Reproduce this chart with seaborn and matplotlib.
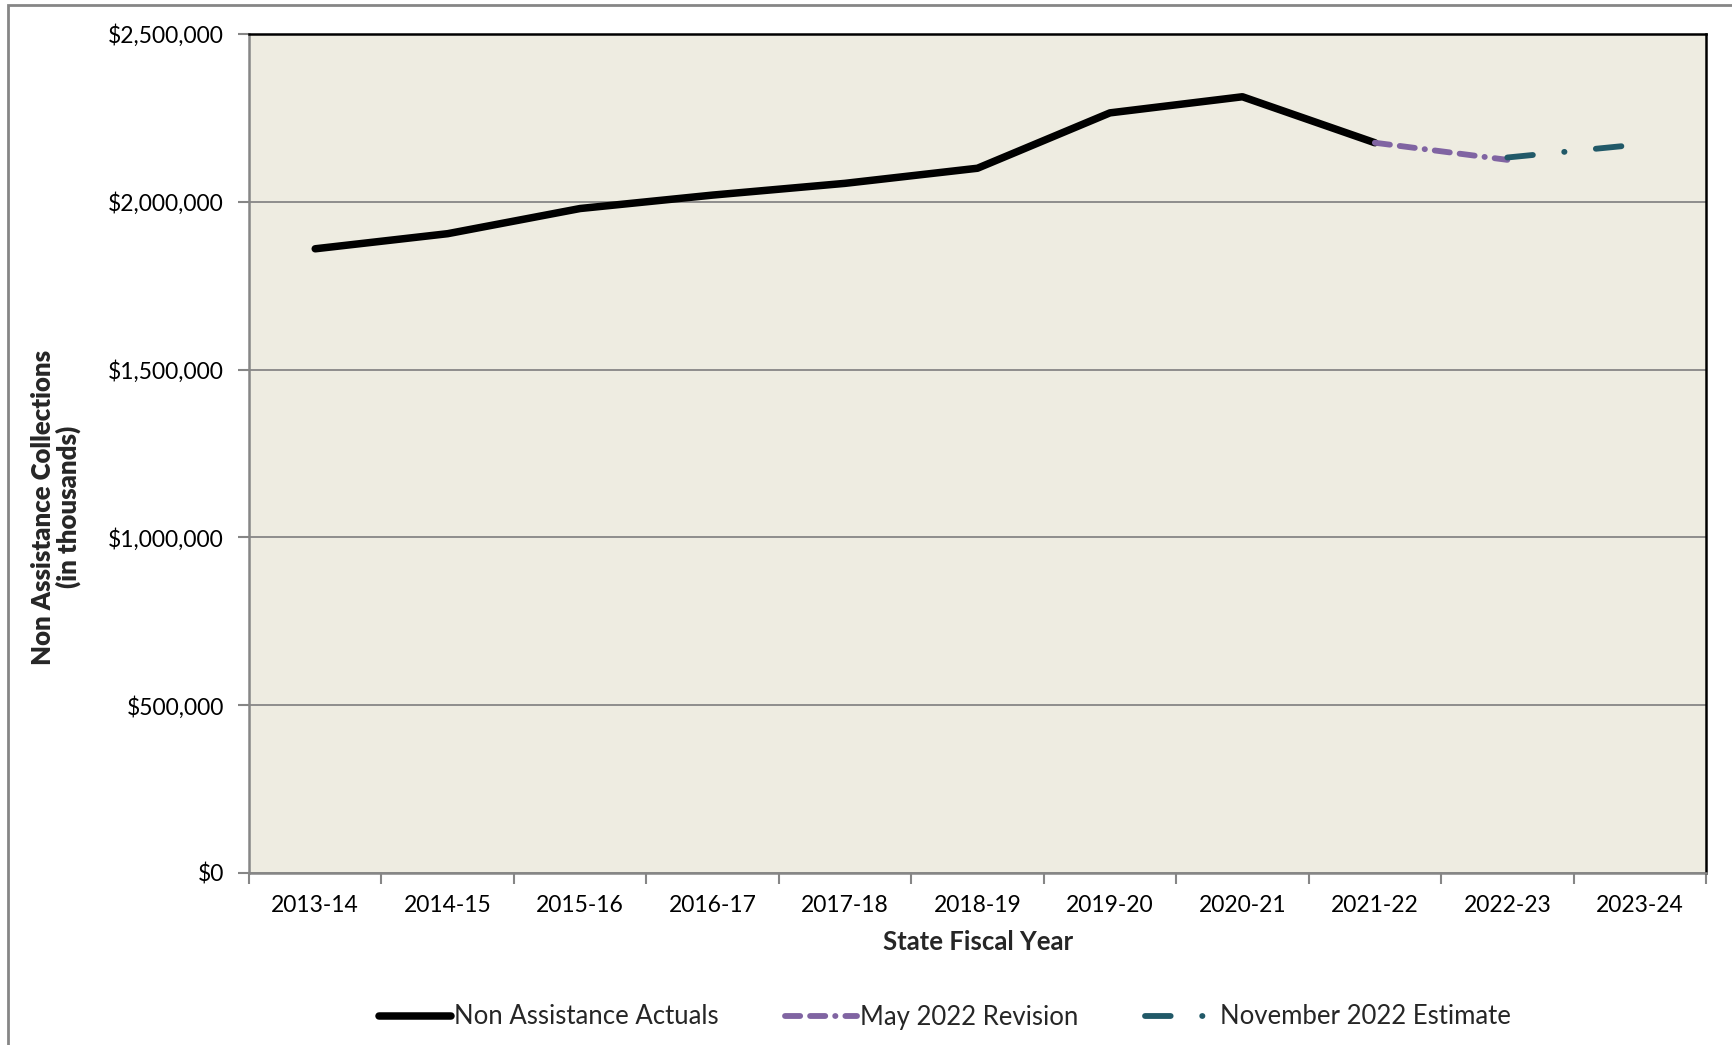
import matplotlib
matplotlib.use("Agg")
import matplotlib.pyplot as plt
from matplotlib.ticker import FuncFormatter, FixedLocator
from matplotlib.patches import Rectangle
import seaborn as sns
import pandas as pd

# ---- data ----
categories = ["2013-14", "2014-15", "2015-16", "2016-17", "2017-18", "2018-19",
              "2019-20", "2020-21", "2021-22", "2022-23", "2023-24"]
actual_years = ["2013-14", "2014-15", "2015-16", "2016-17", "2017-18", "2018-19",
                "2019-20", "2020-21", "2021-22"]
actual_values = [1860000, 1905000, 1980000, 2020000, 2055000, 2100000,
                 2265000, 2313000, 2176000]
may_years = ["2021-22", "2022-23"]
may_values = [2176000, 2125000]
nov_years = ["2022-23", "2023-24"]
nov_values = [2132000, 2171000]
y_ticks = [0, 500000, 1000000, 1500000, 2000000, 2500000]

series_names = ["Non Assistance Actuals", "May 2022 Revision", "November 2022 Estimate"]
y_title = "Non Assistance Collections\n(in thousands)"
x_title = "State Fiscal Year"

pos = {c: i for i, c in enumerate(categories)}
df_act = pd.DataFrame({"x": [pos[c] for c in actual_years], "y": actual_values})
df_may = pd.DataFrame({"x": [pos[c] for c in may_years], "y": may_values})
df_nov = pd.DataFrame({"x": [pos[c] for c in nov_years], "y": nov_values})

sns.set_theme(style="white")
plt.rcParams["font.family"] = ["Lato", "DejaVu Sans"]

W, H = 1732, 1045
fig = plt.figure(figsize=(W / 100, H / 100), dpi=100)
ax = fig.add_axes([249 / W, 1 - 873 / H, (1706 - 249) / W, (873 - 34) / H])
ax.set_facecolor("#EEECE1")

gray = "#868686"
lw = 4.2
sns.lineplot(data=df_act, x="x", y="y", ax=ax, color="black", linewidth=5.4,
             solid_capstyle="round", solid_joinstyle="round",
             label=series_names[0])
sns.lineplot(data=df_may, x="x", y="y", ax=ax, color="#8064A2", linewidth=lw,
             linestyle=(0, (2.6, 1.7, 2.6, 1.7, 0.05, 1.7)),
             dash_capstyle="round", label=series_names[1])
sns.lineplot(data=df_nov, x="x", y="y", ax=ax, color="#215968", linewidth=lw,
             linestyle=(0, (4.4, 5.4, 0.05, 5.4)),
             dash_capstyle="round", label=series_names[2])

# axes limits / ticks
ax.set_xlim(-0.5, len(categories) - 0.5)
ax.set_ylim(y_ticks[0], y_ticks[-1])
ax.yaxis.set_major_locator(FixedLocator(y_ticks))
ax.yaxis.set_major_formatter(FuncFormatter(lambda v, p: f"${v:,.0f}"))
ax.xaxis.set_major_locator(FixedLocator(list(range(len(categories)))))
ax.set_xticklabels(categories)
ax.xaxis.set_minor_locator(FixedLocator([i - 0.5 for i in range(len(categories) + 1)]))

fs = 16.5
fs_txt = 18.5
ax.tick_params(axis="y", which="major", direction="out", length=8, width=1.5,
               color=gray, labelsize=fs, labelcolor="black", pad=10, left=True)
ax.tick_params(axis="x", which="major", length=0, labelsize=fs, labelcolor="black", pad=16)
ax.tick_params(axis="x", which="minor", direction="out", length=8, width=1.5,
               color=gray, bottom=True)

ax.grid(True, axis="y", color=gray, linewidth=1.3)
ax.grid(False, axis="x")
ax.set_axisbelow(True)

for s in ["left", "bottom"]:
    ax.spines[s].set_color(gray)
    ax.spines[s].set_linewidth(1.8)
for s in ["top", "right"]:
    ax.spines[s].set_color("black")
    ax.spines[s].set_linewidth(1.8)

ax.set_xlabel(x_title, fontsize=fs_txt, fontweight="bold")
ax.xaxis.set_label_coords((978 - 249) / 1457, (873 - 942) / 839)
ax.xaxis.label.set_va("center")
ax.set_ylabel("")
ax.text((56 - 249) / 1457, (873 - 507) / 839, y_title, transform=ax.transAxes,
        rotation=90, ha="center", va="center", fontsize=fs_txt,
        fontweight="heavy", linespacing=1.05, multialignment="center")

# legend at bottom
handles, labels = ax.get_legend_handles_labels()
ax.get_legend().remove()
fig.legend(handles, labels, loc="center", bbox_to_anchor=(945 / W, 1 - 1017 / H),
           ncol=3, frameon=False, fontsize=fs_txt, handlelength=2.8,
           handletextpad=0.1, columnspacing=2.6)

# outer chart border (left and top visible)
fig.add_artist(Rectangle((8 / W, -0.05), 1.2, 1 - 5 / H + 0.05,
                         transform=fig.transFigure, fill=False,
                         edgecolor=gray, linewidth=2, clip_on=False))

fig.savefig("out.png", dpi=100, facecolor="white")
